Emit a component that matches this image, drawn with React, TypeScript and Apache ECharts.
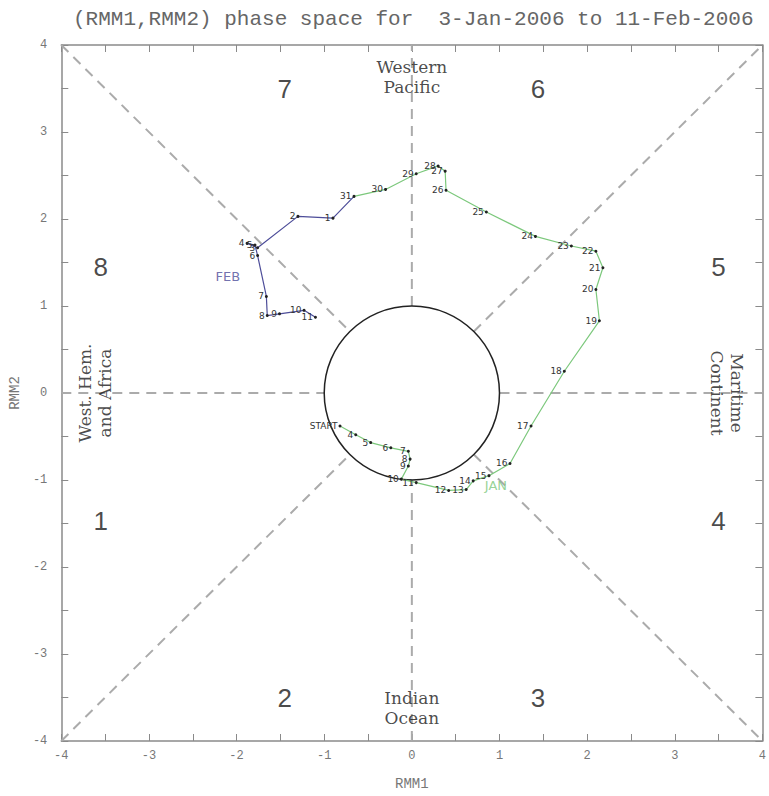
import React, { useEffect, useRef } from "react";
import * as echarts from "echarts";

// ---- Data ----
const titleText = "(RMM1,RMM2) phase space for  3-Jan-2006 to 11-Feb-2006";

const janDays = [3, 4, 5, 6, 7, 8, 9, 10, 11, 12, 13, 14, 15, 16, 17, 18, 19, 20, 21, 22, 23, 24, 25, 26, 27, 28, 29, 30, 31];
const janRmm1 = [-0.82, -0.64, -0.47, -0.24, -0.04, -0.02, -0.04, -0.12, 0.05, 0.42, 0.62, 0.70, 0.88, 1.12, 1.36, 1.74, 2.14, 2.10, 2.18, 2.10, 1.82, 1.41, 0.85, 0.39, 0.38, 0.30, 0.05, -0.30, -0.66];
const janRmm2 = [-0.38, -0.48, -0.57, -0.63, -0.67, -0.76, -0.84, -0.99, -1.03, -1.12, -1.11, -1.01, -0.95, -0.81, -0.38, 0.25, 0.83, 1.19, 1.44, 1.63, 1.69, 1.80, 2.08, 2.33, 2.55, 2.61, 2.52, 2.34, 2.26];

const febDays = [1, 2, 3, 4, 5, 6, 7, 8, 9, 10, 11];
const febRmm1 = [-0.90, -1.30, -1.76, -1.88, -1.79, -1.76, -1.66, -1.65, -1.51, -1.23, -1.10];
const febRmm2 = [2.01, 2.03, 1.67, 1.72, 1.70, 1.58, 1.11, 0.89, 0.91, 0.95, 0.87];

const monthLabels = ["JAN", "FEB"];
const monthLabelRmm1 = [0.96, -2.1];
const monthLabelRmm2 = [-1.06, 1.34];

const phaseNames = ["1", "2", "3", "4", "5", "6", "7", "8"];
const phaseRmm1 = [-3.55, -1.45, 1.44, 3.5, 3.5, 1.44, -1.45, -3.55];
const phaseRmm2 = [-1.47, -3.5, -3.5, -1.47, 1.45, 3.5, 3.5, 1.45];

const regionNames = ["Western\nPacific", "Indian\nOcean", "West. Hem.\nand Africa", "Maritime\nContinent"];
const regionRmm1 = [0, 0, -3.62, 3.6];
const regionRmm2 = [3.63, -3.62, 0, 0];
const regionRotate = [0, 0, 90, -90];

const D = Math.SQRT1_2;
const dividers = [
  [-4, 0, -1, 0],
  [1, 0, 4, 0],
  [0, -4, 0, -1],
  [0, 1, 0, 4],
  [-4, -4, -D, -D],
  [D, D, 4, 4],
  [-4, 4, -D, D],
  [D, -D, 4, -4],
];

const GREEN = "#7cc87c";
const BLUE = "#4d4d99";
const AXIS = "#8a8a8a";
const MONO = "'Liberation Mono', 'DejaVu Sans Mono', monospace";
const SERIF = "'DejaVu Serif', 'Liberation Serif', serif";

function buildOption(): any {
  const janData = janDays.map((d, i) => ({
    value: [janRmm1[i], janRmm2[i]],
    label: { formatter: i === 0 ? "START" : String(d) },
  }));
  const last = janData.length - 1;
  const febData = [
    { value: [janRmm1[last], janRmm2[last]], symbolSize: 0, label: { show: false } },
    ...febDays.map((d, i) => ({
      value: [febRmm1[i], febRmm2[i]],
      label: { formatter: String(d) },
    })),
  ];

  const dayLabel = {
    show: true,
    position: "left",
    distance: 1,
    fontSize: 9,
    color: "#333",
    fontFamily: "'DejaVu Sans', sans-serif",
  };

  const valueAxisBase = {
    type: "value",
    min: -4,
    max: 4,
    interval: 0.5,
    splitLine: { show: false },
    axisLine: { show: true, onZero: false, lineStyle: { color: AXIS, width: 1.5 } },
    axisTick: { show: true, inside: true, length: 7, lineStyle: { color: AXIS, width: 1 } },
  };
  const labelFmt = (v: number) => (Number.isInteger(v) ? String(v) : "");

  return {
    animation: false,
    backgroundColor: "#ffffff",
    title: {
      text: titleText,
      left: 68,
      top: 4,
      textStyle: { fontFamily: MONO, fontSize: 21, fontWeight: "normal", color: "#666" },
    },
    grid: { left: 61, right: 3, top: 45, bottom: 53, containLabel: false },
    xAxis: [
      {
        ...valueAxisBase,
        position: "bottom",
        name: "RMM1",
        nameLocation: "middle",
        nameGap: 36,
        nameTextStyle: { fontFamily: MONO, fontSize: 14, color: "#777" },
        axisLabel: { formatter: labelFmt, fontFamily: MONO, fontSize: 12, color: "#777", margin: 9 },
      },
      {
        ...valueAxisBase,
        position: "top",
        axisLabel: { show: false },
      },
    ],
    yAxis: [
      {
        ...valueAxisBase,
        position: "left",
        name: "RMM2",
        nameLocation: "middle",
        nameGap: 38,
        nameRotate: 90,
        nameTextStyle: { fontFamily: MONO, fontSize: 14, color: "#777" },
        axisLabel: { formatter: labelFmt, fontFamily: MONO, fontSize: 12, color: "#777", margin: 14 },
      },
      {
        ...valueAxisBase,
        position: "right",
        axisLabel: { show: false },
      },
    ],
    series: [
      {
        type: "custom",
        name: "dividers",
        silent: true,
        encode: { x: [0, 2], y: [1, 3] },
        data: dividers,
        renderItem: (params: any, api: any) => {
          const p1 = api.coord([api.value(0), api.value(1)]);
          const p2 = api.coord([api.value(2), api.value(3)]);
          return {
            type: "line",
            shape: { x1: p1[0], y1: p1[1], x2: p2[0], y2: p2[1] },
            style: { stroke: "#ababab", lineWidth: 2, lineDash: [10, 7] },
          };
        },
      },
      {
        type: "custom",
        name: "unitCircle",
        silent: true,
        data: [[0, 0]],
        renderItem: (params: any, api: any) => {
          const c = api.coord([0, 0]);
          const s = api.size([1, 1]);
          return {
            type: "ellipse",
            shape: { cx: c[0], cy: c[1], rx: s[0], ry: s[1] },
            style: { fill: "none", stroke: "#222", lineWidth: 1.5 },
          };
        },
      },
      {
        type: "scatter",
        name: "phases",
        silent: true,
        symbolSize: 0,
        data: phaseNames.map((n, i) => ({ value: [phaseRmm1[i], phaseRmm2[i]], name: n })),
        label: {
          show: true,
          position: "inside",
          formatter: (p: any) => p.name,
          fontSize: 26,
          color: "#1a1a1a",
          fontFamily: "'Liberation Sans', Arial, sans-serif",
        },
      },
      {
        type: "scatter",
        name: "regions",
        silent: true,
        symbolSize: 0,
        data: regionNames.map((n, i) => ({
          value: [regionRmm1[i], regionRmm2[i]],
          name: n,
          label: { rotate: regionRotate[i] },
        })),
        label: {
          show: true,
          position: "inside",
          formatter: (p: any) => p.name,
          fontSize: 17,
          lineHeight: 20,
          align: "center",
          color: "#1a1a1a",
          fontFamily: SERIF,
        },
      },
      {
        type: "line",
        name: "January",
        data: janData,
        lineStyle: { color: GREEN, width: 1.2 },
        symbol: "circle",
        symbolSize: 3,
        itemStyle: { color: "#222" },
        label: dayLabel,
        z: 5,
      },
      {
        type: "line",
        name: "February",
        data: febData,
        lineStyle: { color: BLUE, width: 1.2 },
        symbol: "circle",
        symbolSize: 3,
        itemStyle: { color: "#222" },
        label: dayLabel,
        z: 5,
      },
      {
        type: "scatter",
        name: "months",
        silent: true,
        symbolSize: 0,
        data: monthLabels.map((n, i) => ({
          value: [monthLabelRmm1[i], monthLabelRmm2[i]],
          name: n,
          label: { color: i === 0 ? GREEN : BLUE },
        })),
        label: {
          show: true,
          position: "inside",
          formatter: (p: any) => p.name,
          fontSize: 13,
          fontFamily: "'DejaVu Sans', sans-serif",
        },
        itemStyle: { color: "transparent" },
        z: 6,
      },
    ],
  };
}

export default function App() {
  const ref = useRef<HTMLDivElement>(null);
  useEffect(() => {
    if (!ref.current) return;
    const chart = echarts.init(ref.current, null, { renderer: "svg" });
    chart.setOption(buildOption());
    return () => chart.dispose();
  }, []);
  return <div ref={ref} style={{ width: 769, height: 796, position: "absolute", left: 0, top: 0 }} />;
}
